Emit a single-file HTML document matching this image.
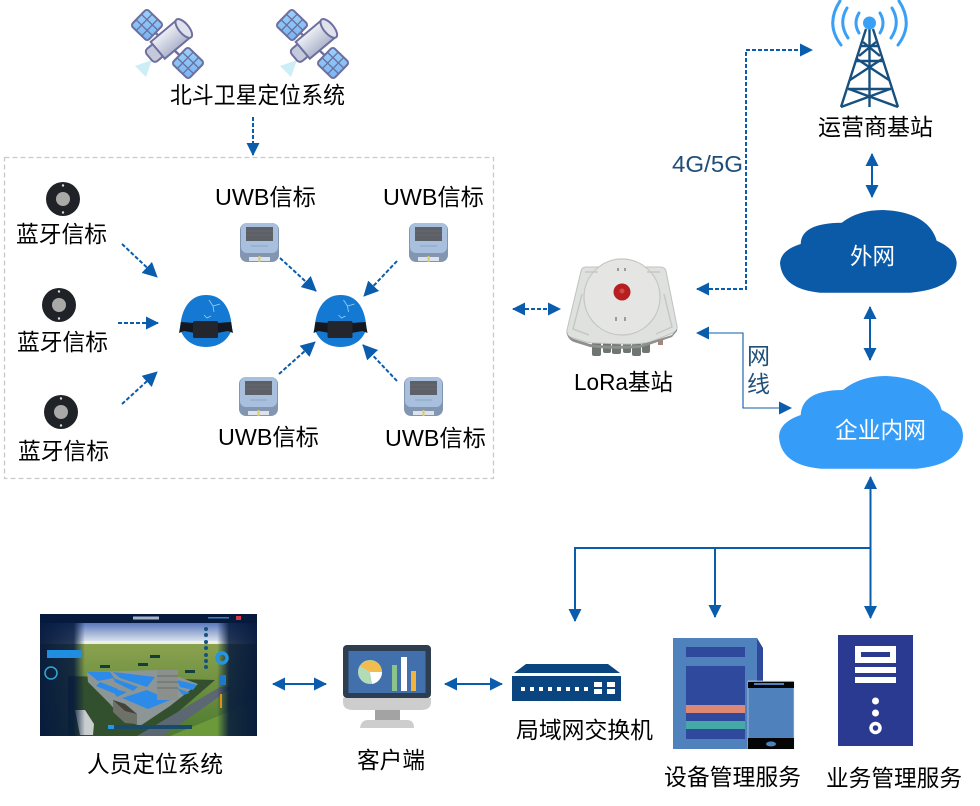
<!DOCTYPE html>
<html><head><meta charset="utf-8"><style>
html,body{margin:0;padding:0;background:#fff}
svg{display:block}
text{font-family:"Liberation Sans","Noto Sans CJK SC",sans-serif;font-size:23px;fill:#000}
</style></head><body>
<svg width="980" height="806" viewBox="0 0 980 806" xmlns="http://www.w3.org/2000/svg">
<defs>
<linearGradient id="tube" x1="0" y1="0" x2="0" y2="1"><stop offset="0" stop-color="#eef0f5"/><stop offset="1" stop-color="#aeb5cc"/></linearGradient>
<linearGradient id="pan" x1="0" y1="0" x2="1" y2="1"><stop offset="0" stop-color="#9bd2fb"/><stop offset="1" stop-color="#76b4f2"/></linearGradient>
<linearGradient id="sky" x1="0" y1="0" x2="0" y2="1"><stop offset="0" stop-color="#5b78bc"/><stop offset="1" stop-color="#dfe7f0"/></linearGradient>
<linearGradient id="field" x1="0" y1="0" x2="0" y2="1"><stop offset="0" stop-color="#8aa24f"/><stop offset="1" stop-color="#4c7a30"/></linearGradient>
<linearGradient id="leftp" x1="0" y1="0" x2="1" y2="0"><stop offset="0" stop-color="#04183c" stop-opacity=".96"/><stop offset=".75" stop-color="#04183c" stop-opacity=".85"/><stop offset="1" stop-color="#04183c" stop-opacity="0"/></linearGradient>
<linearGradient id="rightp" x1="1" y1="0" x2="0" y2="0"><stop offset="0" stop-color="#04183c" stop-opacity=".96"/><stop offset=".7" stop-color="#04183c" stop-opacity=".85"/><stop offset="1" stop-color="#04183c" stop-opacity="0"/></linearGradient>
<marker id="a" viewBox="0 0 13 13" refX="12" refY="6.500" markerWidth="13" markerHeight="13" markerUnits="userSpaceOnUse" orient="auto-start-reverse"><path d="M0 0L13 6.500L0 13Z" fill="#0a5cad"/></marker>
<marker id="b" viewBox="0 0 15 15" refX="14" refY="7.500" markerWidth="15" markerHeight="15" markerUnits="userSpaceOnUse" orient="auto-start-reverse"><path d="M0 0L15 7.500L0 15Z" fill="#0a5cad"/></marker>

<g id="panel">
<rect x="-11.500" y="-11.500" width="23" height="23" rx="3" fill="url(#pan)" stroke="#6d6f9e" stroke-width="2"/>
<path d="M-3.800-11.500V11.500M3.800-11.500V11.500M-11.500-3.800H11.500M-11.500 3.800H11.500" stroke="#6d6f9e" stroke-width="1.300"/>
</g>
<g id="sat">
<path d="M135 66L152 60L146 77Z" fill="#cdeef5"/>
<path d="M147 25L188 63" stroke="#6d6f9e" stroke-width="2.500"/>
<use href="#panel" transform="translate(147 25) rotate(44)"/>
<use href="#panel" transform="translate(188 63) rotate(44)"/>
<g transform="translate(170 40) rotate(-40)">
<rect x="-27" y="-8" width="13" height="16" rx="4" fill="#c5cadb" stroke="#6d6f9e" stroke-width="2"/>
<rect x="-16" y="-11" width="34" height="22" fill="url(#tube)" stroke="#6d6f9e" stroke-width="2"/>
<ellipse cx="18" cy="0" rx="5" ry="11.500" fill="#dfe2ec" stroke="#6d6f9e" stroke-width="2"/>
</g>
</g>

<g id="beacon">
<circle r="17" fill="#1f2226"/>
<circle r="7" fill="#a9a9a7"/>
<circle cy="-13.500" r="1.200" fill="#ddd"/><circle cy="13.500" r="1.200" fill="#ddd"/>
</g>

<g id="helmet">
<path d="M1 33C3 8 15 0 27 0C40 0 51 8 53 33C50 45 40 52 27 52C14 52 4 45 1 33Z" fill="#1479d2"/>
<path d="M30 5l4 6l7-2M34 11l1 6M25 20l3 3l4-2" stroke="#9fd0f2" stroke-width=".8" fill="none"/>
<path d="M0 38L2 27L16 28V38L5 36Z" fill="#15191f"/>
<path d="M54 38L52 27L38 28V38L49 36Z" fill="#15191f"/>
<rect x="14" y="26" width="25" height="17" rx="1.500" fill="#23262c"/>
</g>

<g id="uwb">
<rect x="0" y="0" width="39" height="39" rx="7" fill="#8296b2"/>
<rect x="1" y="0" width="37" height="30" rx="6" fill="#a8c0dd"/>
<rect x="6" y="4" width="27" height="14" fill="#5d6167"/>
<path d="M6 8H33M6 12H33" stroke="#6f7379" stroke-width=".6"/>
<rect x="9" y="34" width="21" height="4" fill="#dce3ea"/>
<rect x="18.500" y="33" width="2" height="6" fill="#dcc96a"/>
<path d="M11 23h17" stroke="#8aa3bf" stroke-width="1"/>
</g>
</defs>

<!-- dashed container -->
<rect x="4.500" y="157.500" width="489" height="321" fill="none" stroke="#c9c9c9" stroke-width="1.300" stroke-dasharray="5 3"/>

<!-- satellites -->
<use href="#sat"/>
<use href="#sat" transform="translate(145 0)"/>

<!-- beacons -->
<use href="#beacon" transform="translate(63 199)"/>
<use href="#beacon" transform="translate(59 305)"/>
<use href="#beacon" transform="translate(61 412)"/>

<!-- helmets -->
<use href="#helmet" transform="translate(179 295)"/>
<use href="#helmet" transform="translate(313.500 295)"/>

<!-- UWB -->
<use href="#uwb" transform="translate(240 223)"/>
<use href="#uwb" transform="translate(409 223)"/>
<use href="#uwb" transform="translate(239 377)"/>
<use href="#uwb" transform="translate(404 377)"/>

<!-- dashed connectors -->
<g fill="none" stroke="#0a5cad" stroke-width="2" stroke-dasharray="4 2">
<path d="M253 117V155" marker-end="url(#a)"/>
<path d="M122 244L157 277" marker-end="url(#b)"/>
<path d="M118 323H158" marker-end="url(#a)"/>
<path d="M122 404L157 372" marker-end="url(#b)"/>
<path d="M280 258L316 291" marker-end="url(#b)"/>
<path d="M397 261L364 296" marker-end="url(#b)"/>
<path d="M279 374L315 342" marker-end="url(#b)"/>
<path d="M397 381L363 345" marker-end="url(#b)"/>
<path d="M513 309H560" marker-start="url(#a)" marker-end="url(#a)"/>
<path d="M697 289H746V50H812" marker-start="url(#a)" marker-end="url(#a)"/>
</g>

<!-- solid connectors -->
<g fill="none" stroke="#0a5cad" stroke-width="2">
<path d="M697 333H743V408H791" stroke-width="1.100" marker-start="url(#a)" marker-end="url(#a)"/>
<path d="M872 154V197" marker-start="url(#a)" marker-end="url(#a)"/>
<path d="M870 307V360" marker-start="url(#a)" marker-end="url(#a)"/>
<path d="M870.500 477V618" marker-start="url(#a)" marker-end="url(#a)"/>
<path d="M870 548H575V621" marker-end="url(#a)"/>
<path d="M715 548V617" marker-end="url(#a)"/>
<path d="M273 684H326" marker-start="url(#a)" marker-end="url(#a)"/>
<path d="M445 684H502" marker-start="url(#a)" marker-end="url(#a)"/>
</g>

<!-- LoRa box -->
<g>
<g fill="#6f7672">
<rect x="592" y="338" width="9" height="18" rx="2"/><rect x="603" y="340" width="8" height="13" rx="2"/><rect x="612" y="340" width="9" height="14" rx="2"/><rect x="623" y="340" width="8" height="13" rx="2"/>
<rect x="632" y="340" width="9" height="16" rx="2"/><rect x="642" y="340" width="8" height="13" rx="2"/>
</g>
<path d="M586 267L660 267Q665 267 666 271L677 326Q678 331 673 333L650 342Q640 344 625 344L595 343Q590 343 586 342L570 337Q566 335 567 330L581 271Q582 267 586 267Z" fill="#dfe1de" stroke="#bfc2bf" stroke-width="1"/>
<path d="M567 332Q568 337 574 339L590 344Q610 347 640 345L672 335L677 329V331L672 337L640 348Q610 350 590 347L574 342Q567 339 567 332Z" fill="#8d908e"/>
<circle cx="622" cy="297" r="38" fill="#e5e6e3" stroke="#c4c6c4" stroke-width="1.200"/>
<path d="M582 294L573 329L589 335M664 294L672 327L656 334M585 272H598M647 272H660" fill="none" stroke="#c6c8c6" stroke-width="1.500"/>
<circle cx="622" cy="292" r="8.500" fill="#b61e20"/>
<circle cx="622" cy="291" r="2.500" fill="#cf4a46"/>
<path d="M617 268h2v3h-2zM624 268h2v3h-2zM615 317h2v4h-2zM624 317h2v4h-2z" fill="#9a9c9a"/>
<rect x="658" y="340" width="5" height="5" fill="#a08880"/>
</g>

<!-- tower -->
<g fill="none" stroke="#3aa0f5" stroke-width="3" stroke-linecap="round">
<path d="M859 13Q853 23 859 33M880 13Q886 23 880 33"/>
<path d="M847 8Q838 23 848 38M892 8Q901 23 891 38"/>
<path d="M840 1Q825 24 841 45M899 1Q914 24 898 45"/>
</g>
<g stroke="#17507f" stroke-width="2.400" fill="none">
<path d="M866 29L841 107M873 29L898 107M869.500 29V107"/>
<path d="M861 46H878M855 61H884M848 89H891"/>
<path d="M863 42L880 56M876 42L859 56M857 59L889 80M882 59L850 80M849 89L898 107M890 89L841 107"/>
</g>
<circle cx="869.500" cy="23" r="6.500" fill="#3aa0f5"/>

<!-- clouds -->
<path d="M820 292.700Q782 289 780 263Q781 250 800.700 244Q801 223 841.700 222.700Q858 210 883 210Q928 212 936.700 240.700Q956 249 956.700 263.300Q955 289 910 292.700Z" fill="#0a5aa8"/>
<path d="M821 468.700Q780 465 779 436Q780 422 800.700 415Q802 390 843 390Q860 376 886 376Q933 378 941.700 410Q963 420 963 436Q962 464 917 468.700Z" fill="#359cf8"/>

<!-- dashboard -->
<svg x="40" y="614" width="217" height="122" viewBox="0 0 217 122">
<rect width="217" height="122" fill="#0b2040"/>
<rect y="9" width="217" height="19" fill="url(#sky)"/>
<rect y="27" width="217" height="3" fill="#eef0e4"/>
<rect y="30" width="217" height="92" fill="url(#field)"/>
<path d="M28 62L175 66L130 105L97 122H28Z" fill="#33502e"/>
<path d="M130 122L217 86V122Z" fill="#6c9a3a"/>
<path d="M97 122L180 73L193 73L123 122Z" fill="#5b6772"/>
<path d="M47 58L120 56L158 70L130 92L100 112L82 104L70 90L48 68Z" fill="#8c9696"/>
<g fill="#2c8be8">
<path d="M47 58L70 58L74 64L58 67Z"/>
<path d="M73 58L115 63L107 73L80 64Z"/>
<path d="M60 68L78 75L73 79L56 72Z"/>
<path d="M73 64L98 73L93 77L75 68Z"/>
<path d="M82 84L107 76L130 86L108 95Z"/>
<path d="M70 74L87 78L77 83Z"/>
<path d="M137 66L157 71L153 76L140 73Z"/>
<path d="M137 74L150 79L143 81Z"/>
</g>
<rect x="117" y="56" width="21" height="30" fill="#8b908c"/>
<path d="M117 62H138M117 68H138M117 74H138" stroke="#666b68" stroke-width="1"/>
<path d="M73 86L85 90L97 100L97 110L85 109L73 98Z" fill="#6e7167"/>
<path d="M73 86L85 90L97 100L85 97Z" fill="#45423b"/>
<path d="M35 96L45 96L54 110L53 121L40 121Z" fill="#c9cdce"/>
<g fill="#123f3c"><rect x="60" y="51" width="10" height="3"/><rect x="110" y="41" width="10" height="3"/><rect x="98" y="49" width="10" height="3"/><rect x="145" y="56" width="10" height="3"/></g>
<rect width="45" height="122" fill="url(#leftp)"/>
<rect x="177" width="40" height="122" fill="url(#rightp)"/>
<rect width="217" height="9" fill="#061a3e"/>
<rect x="93" y="2.500" width="26" height="3" fill="#aab4c8"/>
<rect x="168" y="3" width="21" height="1.500" fill="#3f7fb8"/>
<rect x="196" y="2" width="5" height="4" fill="#d6384a"/>
<rect x="7" y="36" width="35" height="8" fill="#1f8ee0"/>
<circle cx="11" cy="59" r="6" fill="none" stroke="#33a8d8" stroke-width="1.500"/>
<circle cx="182" cy="44" r="5" fill="none" stroke="#2296e0" stroke-width="3.500"/>
<rect x="179" y="61" width="7" height="10" fill="#1f78c8"/>
<rect x="180" y="80" width="2" height="14" fill="#e09020"/>
<g fill="#16527f"><circle cx="166" cy="15" r="2"/><circle cx="166" cy="21" r="2"/><circle cx="166" cy="28" r="2"/><circle cx="166" cy="34" r="2"/><circle cx="166" cy="41" r="2"/><circle cx="166" cy="47" r="2"/><circle cx="166" cy="53" r="2"/></g>
<rect x="68" y="111" width="84" height="4" fill="#184a6a"/>
<rect x="68" y="111" width="6" height="4" fill="#2296e8"/>
</svg>

<!-- monitor -->
<rect x="343" y="645" width="88" height="53" rx="4" fill="#2c3e50"/>
<path d="M343 698H431V702Q431 710 421 710H353Q343 710 343 702Z" fill="#cdcdcd"/>
<rect x="375" y="710" width="25" height="11" fill="#a3a3a3"/>
<path d="M360 728Q361 720 368 720H407Q414 720 414 728Z" fill="#cdcdcd"/>
<rect x="348.500" y="651" width="77" height="42" fill="#4270ad"/>
<circle cx="370" cy="672" r="12" fill="#b2dcb8"/>
<path d="M370 672L382 672A12 12 0 0 1 372 684Z" fill="#fff"/>
<path d="M370 672L382 672A12 12 0 0 0 360 666Z" fill="#f2bd4d"/>
<rect x="392" y="665" width="5" height="26" fill="#8bc38a"/>
<rect x="401" y="657" width="6" height="34" fill="#fff"/>
<rect x="411" y="671" width="5" height="20" fill="#f2b33f"/>

<!-- switch -->
<path d="M514 673L526 664H608L620 673Z" fill="#0b4580"/>
<rect x="512" y="676" width="109" height="25" fill="#0b4580"/>
<g fill="#fff">
<rect x="521" y="687" width="4" height="4"/><rect x="530" y="687" width="4" height="4"/><rect x="539" y="687" width="4" height="4"/><rect x="548" y="687" width="4" height="4"/><rect x="557" y="687" width="4" height="4"/><rect x="566" y="687" width="4" height="4"/><rect x="575" y="687" width="4" height="4"/><rect x="584" y="687" width="4" height="4"/>
<rect x="594" y="682" width="8" height="5"/><rect x="607" y="682" width="8" height="5"/><rect x="594" y="689" width="8" height="5"/><rect x="607" y="689" width="8" height="5"/>
</g>

<!-- device service -->
<path d="M757 638L763 648V700H757Z" fill="#2f4a9c"/>
<rect x="673" y="638" width="84" height="111" fill="#4f82bd"/>
<rect x="686" y="647" width="59" height="10" fill="#2f4a9c"/>
<rect x="686" y="666" width="59" height="73" fill="#2f4a9c"/>
<rect x="686" y="705" width="59" height="8" fill="#dd8877"/>
<rect x="686" y="721" width="59" height="8" fill="#45a9a6"/>
<rect x="748" y="681" width="46" height="68" fill="#4f82bd" stroke="#cfe0f0" stroke-width=".6"/>
<rect x="748" y="682" width="46" height="6" fill="#050505"/>
<rect x="754" y="683" width="30" height="2" fill="#4f82bd"/>
<rect x="748" y="738" width="46" height="11" fill="#050505"/>
<ellipse cx="771" cy="744" rx="5" ry="2.500" fill="#4f82bd"/>

<!-- business server -->
<rect x="838" y="635" width="75" height="111" fill="#2a3a90"/>
<rect x="855" y="646" width="41" height="17" fill="#fff"/>
<rect x="861" y="652" width="29" height="5" fill="#2a3a90"/>
<rect x="855" y="667" width="41" height="6" fill="#fff"/>
<rect x="855" y="677" width="41" height="6" fill="#fff"/>
<circle cx="875.500" cy="701" r="3.500" fill="#fff"/>
<circle cx="875.500" cy="713" r="3.500" fill="#fff"/>
<circle cx="875.500" cy="728" r="4.500" fill="none" stroke="#fff" stroke-width="3.500"/>

<!-- labels -->
<text x="170" y="103" textLength="175" lengthAdjust="spacingAndGlyphs">北斗卫星定位系统</text>
<text x="818" y="135" textLength="115" lengthAdjust="spacingAndGlyphs">运营商基站</text>
<text x="16" y="242" textLength="91" lengthAdjust="spacingAndGlyphs">蓝牙信标</text>
<text x="17" y="350" textLength="91" lengthAdjust="spacingAndGlyphs">蓝牙信标</text>
<text x="18" y="459" textLength="91" lengthAdjust="spacingAndGlyphs">蓝牙信标</text>
<text x="215" y="205" textLength="101" lengthAdjust="spacingAndGlyphs">UWB信标</text>
<text x="383" y="205" textLength="101" lengthAdjust="spacingAndGlyphs">UWB信标</text>
<text x="218" y="445" textLength="101" lengthAdjust="spacingAndGlyphs">UWB信标</text>
<text x="385" y="446" textLength="101" lengthAdjust="spacingAndGlyphs">UWB信标</text>
<text x="574" y="390" textLength="99" lengthAdjust="spacingAndGlyphs">LoRa基站</text>
<text x="672" y="172" textLength="71" lengthAdjust="spacingAndGlyphs" style="fill:#1f4e79">4G/5G</text>
<text x="747" y="364" textLength="23" lengthAdjust="spacingAndGlyphs" style="fill:#1f4e79">网</text>
<text x="747" y="392" textLength="23" lengthAdjust="spacingAndGlyphs" style="fill:#1f4e79">线</text>
<text x="850" y="264" textLength="45" lengthAdjust="spacingAndGlyphs" style="fill:#fff">外网</text>
<text x="835" y="438" textLength="91" lengthAdjust="spacingAndGlyphs" style="fill:#fff">企业内网</text>
<text x="87" y="772" textLength="136" lengthAdjust="spacingAndGlyphs">人员定位系统</text>
<text x="357" y="768" textLength="68" lengthAdjust="spacingAndGlyphs">客户端</text>
<text x="516" y="738" textLength="137" lengthAdjust="spacingAndGlyphs">局域网交换机</text>
<text x="664" y="785" textLength="137" lengthAdjust="spacingAndGlyphs">设备管理服务</text>
<text x="826" y="786" textLength="136" lengthAdjust="spacingAndGlyphs">业务管理服务</text>
</svg>
</body></html>
